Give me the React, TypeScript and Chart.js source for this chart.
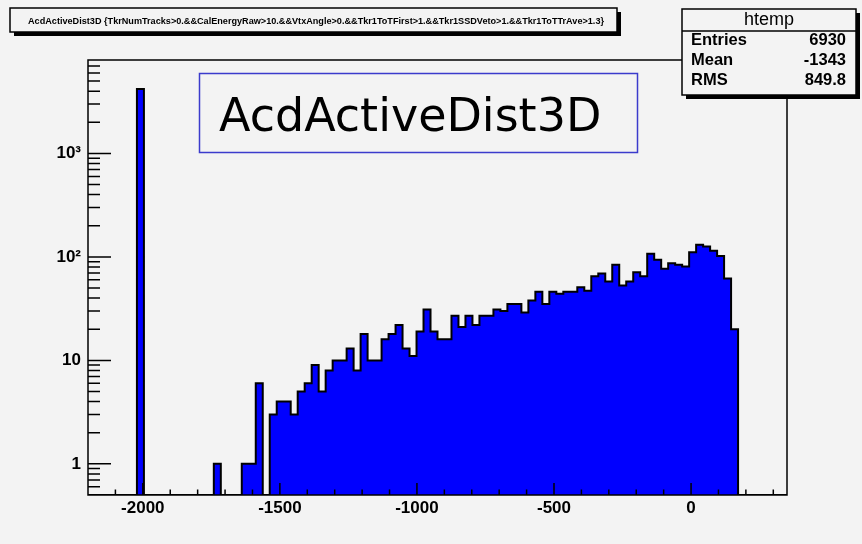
import { useEffect, useRef } from "react";
import { Chart, registerables } from "chart.js";

Chart.register(...registerables);

// Histogram description
const histTitle =
  "AcdActiveDist3D {TkrNumTracks>0.&&CalEnergyRaw>10.&&VtxAngle>0.&&Tkr1ToTFirst>1.&&Tkr1SSDVeto>1.&&Tkr1ToTTrAve>1.3}";
const histName = "htemp";
const legendLabel = "AcdActiveDist3D";
const statNames = ["Entries", "Mean", "RMS"];
const statValues = ["6930", "-1343", "849.8"];

// Binning: 100 equal bins between xMin and xMax
const xMin = -2200;
const xMax = 350;
const binCounts = [
  0, 0, 0, 0, 0, 0, 0, 4185, 0, 0,
  0, 0, 0, 0, 0, 0, 0, 0, 1, 0,
  0, 0, 1, 1, 6, 0, 3, 4, 4, 3,
  5, 6, 9, 5, 8, 10, 10, 13, 8, 18,
  10, 10, 16, 18, 22, 13, 11, 19, 31, 19,
  16, 16, 27, 21, 27, 22, 27, 27, 31, 30,
  35, 35, 29, 38, 46, 35, 46, 44, 46, 46,
  51, 47, 65, 69, 58, 84, 53, 58, 71, 65,
  107, 94, 77, 87, 84, 81, 111, 131, 126, 115,
  102, 62, 20, 0, 0, 0, 0, 0, 0, 0,
];

// Axis ranges and labelled ticks
const yMin = 0.5;
const yMax = 8000;
const xMajorTicks = [-2000, -1500, -1000, -500, 0];
const xMinorStep = 100;
const yMajorTicks = [1, 10, 100, 1000];
const yTickLabels = ["1", "10", "10²", "10³"];

const BG = "#f3f3f3";
const AXIS_FONT = "Liberation Sans";

function buildSteps() {
  const width = (xMax - xMin) / binCounts.length;
  const pts = binCounts.map((c, i) => ({
    x: xMin + i * width,
    y: c > yMin ? c : yMin,
  }));
  pts.push({ x: xMax, y: yMin });
  return pts;
}

function drawShadowBox(
  ctx: CanvasRenderingContext2D,
  x: number,
  y: number,
  w: number,
  h: number,
  shadow: number
) {
  ctx.fillStyle = "#000";
  ctx.fillRect(x + shadow, y + shadow, w, h);
  ctx.fillStyle = BG;
  ctx.fillRect(x, y, w, h);
  ctx.strokeStyle = "#000";
  ctx.lineWidth = 1.5;
  ctx.strokeRect(x, y, w, h);
}

const rootPad = {
  id: "rootPad",
  beforeDraw(chart: any) {
    const ctx = chart.ctx as CanvasRenderingContext2D;
    ctx.save();
    ctx.fillStyle = BG;
    ctx.fillRect(0, 0, chart.width, chart.height);
    ctx.restore();
  },
  afterDatasetsDraw(chart: any) {
    const ctx = chart.ctx as CanvasRenderingContext2D;
    const { left, right, top, bottom } = chart.chartArea;
    const xs = chart.scales.x;
    const ys = chart.scales.y;
    ctx.save();
    ctx.strokeStyle = "#000";
    ctx.lineWidth = 1.5;
    ctx.beginPath();
    // inward ticks on the x axis
    for (let v = xMin + xMinorStep; v < xMax; v += xMinorStep) {
      const px = xs.getPixelForValue(v);
      const len = xMajorTicks.includes(v) ? 12 : 5.5;
      ctx.moveTo(px, bottom);
      ctx.lineTo(px, bottom - len);
    }
    // inward ticks on the logarithmic y axis
    for (let d = -1; d <= 4; d++) {
      for (let m = 1; m <= 9; m++) {
        const v = m * Math.pow(10, d);
        if (v <= yMin || v >= yMax) continue;
        const py = ys.getPixelForValue(v);
        const len = m === 1 ? 23 : 12;
        ctx.moveTo(left, py);
        ctx.lineTo(left + len, py);
      }
    }
    ctx.stroke();
    // frame
    ctx.strokeRect(left, top, right - left, bottom - top);
    ctx.restore();
  },
  afterDraw(chart: any) {
    const ctx = chart.ctx as CanvasRenderingContext2D;
    ctx.save();

    // title pave
    drawShadowBox(ctx, 10, 8, 607, 24, 4);
    ctx.fillStyle = "#000";
    ctx.font = `bold 9px ${AXIS_FONT}`;
    const tw = ctx.measureText(histTitle).width;
    const target = 576;
    ctx.save();
    ctx.translate(28, 23.5);
    ctx.scale(target / tw, 1);
    ctx.textBaseline = "alphabetic";
    ctx.fillText(histTitle, 0, 0);
    ctx.restore();

    // statistics box
    drawShadowBox(ctx, 682, 9, 174, 86, 4);
    ctx.beginPath();
    ctx.moveTo(682, 31);
    ctx.lineTo(856, 31);
    ctx.stroke();
    ctx.fillStyle = "#000";
    ctx.font = `500 18px ${AXIS_FONT}`;
    ctx.textAlign = "center";
    ctx.textBaseline = "alphabetic";
    ctx.fillText(histName, 769, 25);
    ctx.font = `bold 16.5px ${AXIS_FONT}`;
    const rowBase = [44.5, 65, 85];
    statNames.forEach((n, i) => {
      ctx.textAlign = "left";
      ctx.fillText(n, 691, rowBase[i]);
      ctx.textAlign = "right";
      ctx.fillText(statValues[i], 846, rowBase[i]);
    });

    // legend label box
    ctx.fillStyle = BG;
    ctx.fillRect(199.5, 73.5, 438, 79);
    ctx.strokeStyle = "#3b3bcc";
    ctx.lineWidth = 1.5;
    ctx.strokeRect(199.5, 73.5, 438, 79);
    ctx.fillStyle = "#000";
    ctx.font = `46px "DejaVu Sans"`;
    ctx.textAlign = "left";
    ctx.textBaseline = "alphabetic";
    ctx.fillText(legendLabel, 219, 131);

    ctx.restore();
  },
};

export default function App() {
  const canvasRef = useRef<HTMLCanvasElement | null>(null);

  useEffect(() => {
    const canvas = canvasRef.current;
    if (!canvas) return;
    const chart = new Chart(canvas, {
      type: "line",
      data: {
        datasets: [
          {
            label: histName,
            data: buildSteps(),
            stepped: "before",
            borderColor: "#000",
            borderWidth: 2,
            backgroundColor: "#0000ff",
            fill: "start",
            pointRadius: 0,
            tension: 0,
          },
        ],
      },
      options: {
        responsive: false,
        animation: false,
        devicePixelRatio: 1,
        layout: { padding: { top: 60, right: 75, left: 0, bottom: 0 } },
        plugins: {
          legend: { display: false },
          tooltip: { enabled: false },
          title: { display: false },
        },
        scales: {
          x: {
            type: "linear",
            min: xMin,
            max: xMax,
            grid: { display: false, drawTicks: false, tickLength: 0 },
            border: { display: false },
            afterBuildTicks: (scale: any) => {
              scale.ticks = xMajorTicks.map((v) => ({ value: v }));
            },
            afterFit: (scale: any) => {
              scale.height = 49;
            },
            ticks: {
              padding: 3,
              maxRotation: 0,
              color: "#000",
              font: { family: AXIS_FONT, size: 17, weight: "bold" },
              callback: (v: any) => String(v),
            },
          },
          y: {
            type: "logarithmic",
            min: yMin,
            max: yMax,
            grid: { display: false, drawTicks: false, tickLength: 0 },
            border: { display: false },
            afterBuildTicks: (scale: any) => {
              scale.ticks = yMajorTicks.map((v) => ({ value: v }));
            },
            afterFit: (scale: any) => {
              scale.width = 88;
            },
            ticks: {
              padding: 7,
              color: "#000",
              font: { family: AXIS_FONT, size: 17, weight: "bold" },
              callback: (v: any) => {
                const i = yMajorTicks.indexOf(Number(v));
                return i >= 0 ? yTickLabels[i] : "";
              },
            },
          },
        },
      },
      plugins: [rootPad],
    });
    return () => chart.destroy();
  }, []);

  return (
    <div
      style={{
        position: "fixed",
        left: 0,
        top: 0,
        width: 862,
        height: 544,
        background: BG,
      }}
    >
      <canvas ref={canvasRef} width={862} height={544} style={{ display: "block" }} />
    </div>
  );
}
